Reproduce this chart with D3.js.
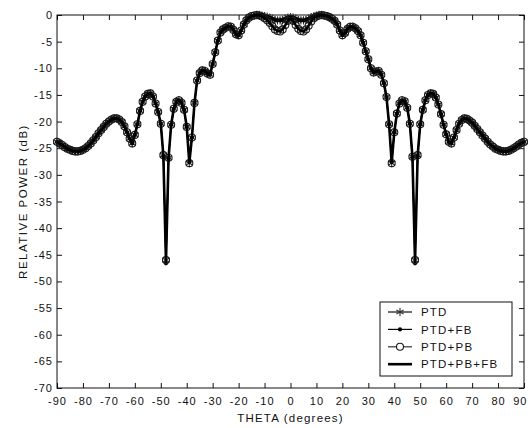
<!DOCTYPE html>
<html>
<head>
<meta charset="utf-8">
<script src="https://cdn.jsdelivr.net/npm/d3@7/dist/d3.min.js"></script>
<style>
  html, body { margin: 0; padding: 0; background: #fff; }
  svg { display: block; }
  text { font-family: "Liberation Sans", Arial, sans-serif; fill: #111; }
</style>
</head>
<body>
<svg id="chart" width="528" height="428"></svg>
<script>
// Observation angle (degrees)
const theta = [
  -90,-89,-88,-87,-86,-85,-84,-83,-82,-81,-80,-79,-78,-77,-76,-75,-74,-73,-72,-71,
  -70,-69,-68,-67,-66,-65,-64,-63,-62,-61,-60,-59,-58,-57,-56,-55,-54,-53,-52,-51,
  -50,-49,-48,-47,-46,-45,-44,-43,-42,-41,-40,-39,-38,-37,-36,-35,-34,-33,-32,-31,
  -30,-29,-28,-27,-26,-25,-24,-23,-22,-21,-20,-19,-18,-17,-16,-15,-14,-13,-12,-11,
  -10,-9,-8,-7,-6,-5,-4,-3,-2,-1,0,1,2,3,4,5,6,7,8,9,
  10,11,12,13,14,15,16,17,18,19,20,21,22,23,24,25,26,27,28,29,
  30,31,32,33,34,35,36,37,38,39,40,41,42,43,44,45,46,47,48,49,
  50,51,52,53,54,55,56,57,58,59,60,61,62,63,64,65,66,67,68,69,
  70,71,72,73,74,75,76,77,78,79,80,81,82,83,84,85,86,87,88,89,90
];

// Relative power (dB) for each method
const ptd = [
  -23.8,-24.1,-24.4,-24.8,-25.1,-25.3,-25.5,-25.6,-25.6,-25.5,-25.3,-25.0,-24.6,-24.1,-23.5,-22.9,-22.2,-21.6,-21.0,-20.4,
  -20.0,-19.6,-19.4,-19.4,-19.6,-20.1,-20.9,-22.0,-23.2,-24.1,-22.5,-20.5,-18.0,-16.3,-15.3,-14.8,-14.7,-15.3,-16.6,-18.2,
  -20.4,-26.3,-46.0,-26.8,-20.6,-17.6,-16.3,-16.0,-16.5,-17.8,-21.0,-27.8,-23.0,-16.5,-12.3,-10.9,-10.4,-10.5,-11.0,-11.2,
  -9.2,-7.0,-4.8,-3.3,-2.7,-2.4,-2.1,-2.2,-2.8,-3.6,-3.8,-2.9,-1.8,-1.0,-0.5,-0.2,-0.1,0.0,0.0,-0.1,
  -0.2,-0.3,-0.5,-0.7,-0.9,-1.0,-1.0,-0.9,-0.7,-0.5,-0.4,-0.5,-0.7,-0.9,-1.0,-1.0,-0.9,-0.7,-0.4,-0.2,
  -0.1,0.0,0.0,-0.1,-0.2,-0.4,-0.7,-1.1,-1.8,-2.9,-3.8,-3.4,-2.6,-2.2,-2.2,-2.5,-3.0,-3.8,-5.2,-6.8,
  -8.3,-10.0,-10.8,-10.6,-10.5,-11.2,-12.8,-15.4,-20.5,-27.8,-22.0,-18.5,-16.6,-16.0,-16.2,-17.4,-20.4,-26.6,-46.0,-26.3,
  -20.5,-17.8,-16.0,-15.0,-14.7,-14.8,-15.5,-16.8,-18.6,-20.6,-22.4,-23.8,-24.1,-23.0,-21.6,-20.4,-19.7,-19.4,-19.5,-19.8,
  -20.2,-20.8,-21.4,-22.0,-22.6,-23.2,-23.8,-24.3,-24.7,-25.1,-25.3,-25.5,-25.6,-25.6,-25.5,-25.3,-25.0,-24.7,-24.3,-24.0,-23.8
];
const ptdFb = [
  -23.8,-24.1,-24.4,-24.8,-25.1,-25.3,-25.5,-25.6,-25.6,-25.5,-25.3,-25.0,-24.6,-24.1,-23.5,-22.9,-22.2,-21.6,-21.0,-20.4,
  -20.0,-19.6,-19.4,-19.4,-19.6,-20.1,-20.9,-22.0,-23.2,-24.1,-22.5,-20.5,-18.0,-16.3,-15.3,-14.8,-14.7,-15.3,-16.6,-18.2,
  -20.4,-26.5,-46.6,-26.9,-20.6,-17.6,-16.3,-16.0,-16.5,-17.8,-21.0,-27.6,-23.0,-16.5,-12.3,-10.9,-10.4,-10.5,-11.0,-11.2,
  -9.2,-7.0,-4.8,-3.3,-2.7,-2.4,-2.1,-2.2,-2.8,-3.6,-3.8,-2.9,-1.8,-1.0,-0.5,-0.2,-0.1,0.0,0.0,-0.1,
  -0.2,-0.3,-0.5,-0.7,-0.9,-1.0,-1.0,-0.9,-0.7,-0.5,-0.4,-0.5,-0.7,-0.9,-1.0,-1.0,-0.9,-0.7,-0.4,-0.2,
  -0.1,0.0,0.0,-0.1,-0.2,-0.4,-0.7,-1.1,-1.8,-2.9,-3.8,-3.4,-2.6,-2.2,-2.2,-2.5,-3.0,-3.8,-5.2,-6.8,
  -8.3,-10.0,-10.8,-10.6,-10.5,-11.2,-12.8,-15.4,-20.5,-27.6,-22.0,-18.5,-16.6,-16.0,-16.2,-17.4,-20.4,-26.7,-46.6,-26.5,
  -20.5,-17.8,-16.0,-15.0,-14.7,-14.8,-15.5,-16.8,-18.6,-20.6,-22.4,-23.8,-24.1,-23.0,-21.6,-20.4,-19.7,-19.4,-19.5,-19.8,
  -20.2,-20.8,-21.4,-22.0,-22.6,-23.2,-23.8,-24.3,-24.7,-25.1,-25.3,-25.5,-25.6,-25.6,-25.5,-25.3,-25.0,-24.7,-24.3,-24.0,-23.8
];
const ptdPb = [
  -23.8,-24.1,-24.4,-24.8,-25.1,-25.3,-25.5,-25.6,-25.6,-25.5,-25.3,-25.0,-24.6,-24.1,-23.5,-22.9,-22.2,-21.6,-21.0,-20.4,
  -20.0,-19.6,-19.4,-19.4,-19.6,-20.1,-20.9,-22.0,-23.2,-24.1,-22.5,-20.5,-18.0,-16.3,-15.3,-14.8,-14.7,-15.3,-16.6,-18.2,
  -20.4,-26.3,-46.0,-26.8,-20.6,-17.6,-16.3,-16.0,-16.5,-17.8,-21.0,-27.8,-23.0,-16.5,-12.3,-10.9,-10.4,-10.5,-11.0,-11.2,
  -9.2,-7.0,-4.8,-3.3,-2.7,-2.4,-2.1,-2.2,-2.8,-3.6,-3.8,-2.9,-1.8,-1.0,-0.5,-0.2,-0.1,0.0,-0.1,-0.3,
  -0.6,-1.0,-1.5,-2.1,-2.7,-3.0,-3.1,-2.7,-1.9,-1.1,-0.7,-1.1,-1.9,-2.6,-3.0,-3.1,-2.7,-2.0,-1.2,-0.6,
  -0.3,-0.1,0.0,-0.1,-0.2,-0.4,-0.7,-1.1,-1.8,-2.9,-3.8,-3.4,-2.6,-2.2,-2.2,-2.5,-3.0,-3.8,-5.2,-6.8,
  -8.3,-10.0,-10.8,-10.6,-10.5,-11.2,-12.8,-15.4,-20.5,-27.8,-22.0,-18.5,-16.6,-16.0,-16.2,-17.4,-20.4,-26.6,-46.0,-26.3,
  -20.5,-17.8,-16.0,-15.0,-14.7,-14.8,-15.5,-16.8,-18.6,-20.6,-22.4,-23.8,-24.1,-23.0,-21.6,-20.4,-19.7,-19.4,-19.5,-19.8,
  -20.2,-20.8,-21.4,-22.0,-22.6,-23.2,-23.8,-24.3,-24.7,-25.1,-25.3,-25.5,-25.6,-25.6,-25.5,-25.3,-25.0,-24.7,-24.3,-24.0,-23.8
];
const ptdPbFb = [
  -23.8,-24.1,-24.4,-24.8,-25.1,-25.3,-25.5,-25.6,-25.6,-25.5,-25.3,-25.0,-24.6,-24.1,-23.5,-22.9,-22.2,-21.6,-21.0,-20.4,
  -20.0,-19.6,-19.4,-19.4,-19.6,-20.1,-20.9,-22.0,-23.2,-24.1,-22.5,-20.5,-18.0,-16.3,-15.3,-14.8,-14.7,-15.3,-16.6,-18.2,
  -20.4,-26.4,-46.3,-26.8,-20.6,-17.6,-16.3,-16.0,-16.5,-17.8,-21.0,-27.7,-23.0,-16.5,-12.3,-10.9,-10.4,-10.5,-11.0,-11.2,
  -9.2,-7.0,-4.8,-3.3,-2.7,-2.4,-2.1,-2.2,-2.8,-3.6,-3.8,-2.9,-1.8,-1.0,-0.5,-0.2,-0.1,0.0,-0.1,-0.3,
  -0.6,-1.0,-1.5,-2.1,-2.7,-3.0,-3.1,-2.7,-1.9,-1.1,-0.7,-1.1,-1.9,-2.6,-3.0,-3.1,-2.7,-2.0,-1.2,-0.6,
  -0.3,-0.1,0.0,-0.1,-0.2,-0.4,-0.7,-1.1,-1.8,-2.9,-3.8,-3.4,-2.6,-2.2,-2.2,-2.5,-3.0,-3.8,-5.2,-6.8,
  -8.3,-10.0,-10.8,-10.6,-10.5,-11.2,-12.8,-15.4,-20.5,-27.7,-22.0,-18.5,-16.6,-16.0,-16.2,-17.4,-20.4,-26.6,-46.3,-26.4,
  -20.5,-17.8,-16.0,-15.0,-14.7,-14.8,-15.5,-16.8,-18.6,-20.6,-22.4,-23.8,-24.1,-23.0,-21.6,-20.4,-19.7,-19.4,-19.5,-19.8,
  -20.2,-20.8,-21.4,-22.0,-22.6,-23.2,-23.8,-24.3,-24.7,-25.1,-25.3,-25.5,-25.6,-25.6,-25.5,-25.3,-25.0,-24.7,-24.3,-24.0,-23.8
];

// Axis ticks and labels
const xTicks = [-90,-80,-70,-60,-50,-40,-30,-20,-10,0,10,20,30,40,50,60,70,80,90];
const yTicks = [0,-5,-10,-15,-20,-25,-30,-35,-40,-45,-50,-55,-60,-65,-70];
const seriesNames = ["PTD", "PTD+FB", "PTD+PB", "PTD+PB+FB"];
const xTitle = "THETA (degrees)";
const yTitle = "RELATIVE POWER (dB)";

const margin = { top: 15, right: 4, bottom: 40, left: 57 };
const W = 528, H = 428;
const w = W - margin.left - margin.right;
const h = H - margin.top - margin.bottom;

const svg = d3.select("#chart");
const g = svg.append("g").attr("transform", `translate(${margin.left},${margin.top})`);

const x = d3.scaleLinear().domain([-90, 90]).range([0, w]);
const y = d3.scaleLinear().domain([-70, 0]).range([h, 0]);

const fmt = d => String(d);
const tickFont = sel => sel.selectAll("text")
  .style("font-size", "11px")
  .style("letter-spacing", "1px")
  .style("font-family", "'Liberation Sans', Arial, sans-serif")
  .attr("fill", "#111");

// Axes with inward ticks on all four sides
const xAxisG = g.append("g").attr("transform", `translate(0,${h})`)
  .call(d3.axisBottom(x).tickValues(xTicks).tickFormat(fmt).tickSize(-5).tickSizeOuter(0).tickPadding(9))
  .call(tickFont);
// keep the last label inside the page edge
xAxisG.selectAll(".tick text").filter(d => d === 90)
  .attr("text-anchor", "end").attr("x", 3);
g.append("g")
  .call(d3.axisLeft(y).tickValues(yTicks).tickFormat(fmt).tickSize(-5).tickSizeOuter(0).tickPadding(4))
  .call(tickFont);
g.append("g")
  .call(d3.axisTop(x).tickValues(xTicks).tickFormat("").tickSize(-5).tickSizeOuter(0));
g.append("g").attr("transform", `translate(${w},0)`)
  .call(d3.axisRight(y).tickValues(yTicks).tickFormat("").tickSize(-5).tickSizeOuter(0));
g.selectAll(".domain").remove();
g.selectAll(".tick line").attr("stroke", "#111");

g.append("rect").attr("x", 0).attr("y", 0).attr("width", w).attr("height", h)
  .attr("fill", "none").attr("stroke", "#111").attr("stroke-width", 1);

// Axis titles
svg.append("text")
  .attr("x", margin.left + w / 2).attr("y", 422)
  .attr("text-anchor", "middle")
  .style("font-size", "11.5px").style("letter-spacing", "1.2px")
  .text(xTitle);
svg.append("text")
  .attr("transform", `translate(27,${margin.top + h / 2}) rotate(-90)`)
  .attr("text-anchor", "middle")
  .style("font-size", "11.5px").style("letter-spacing", "1.5px")
  .text(yTitle);

// Series styles
const star = d3.symbol().type(d3.symbolAsterisk).size(48);
const series = [
  { name: seriesNames[0], values: ptd,     color: "#333", width: 1.4, marker: "star" },
  { name: seriesNames[1], values: ptdFb,   color: "#000", width: 1.2, marker: "dot" },
  { name: seriesNames[2], values: ptdPb,   color: "#333", width: 1.2, marker: "circle" },
  { name: seriesNames[3], values: ptdPbFb, color: "#000", width: 2.6, marker: "none" }
];

const line = d3.line().x(d => x(d[0])).y(d => y(d[1]));

function drawMarker(sel, kind, color) {
  if (kind === "star") {
    sel.append("path").attr("d", star).attr("fill", "none")
      .attr("stroke", color).attr("stroke-width", 1.1);
  } else if (kind === "dot") {
    sel.append("circle").attr("r", 2.1).attr("fill", "#000");
  } else if (kind === "circle") {
    sel.append("circle").attr("r", 3.5).attr("fill", "none")
      .attr("stroke", "#1a1a1a").attr("stroke-width", 1.1);
  }
}

series.forEach(s => {
  const pts = theta.map((t, i) => [t, s.values[i]]);
  g.append("path").datum(pts)
    .attr("d", line).attr("fill", "none")
    .attr("stroke", s.color).attr("stroke-width", s.width)
    .attr("stroke-linejoin", "round");
  if (s.marker !== "none") {
    const m = g.append("g");
    pts.forEach(p => {
      const mk = m.append("g").attr("transform", `translate(${x(p[0])},${y(p[1])})`);
      drawMarker(mk, s.marker, s.color);
    });
  }
});

// Legend
const lg = svg.append("g").attr("transform", "translate(380,302)");
lg.append("rect").attr("x", 0).attr("y", 0).attr("width", 132).attr("height", 74)
  .attr("fill", "#fff").attr("stroke", "#111").attr("stroke-width", 1);
series.forEach((s, i) => {
  const ry = 10 + i * 17.4;
  lg.append("line").attr("x1", 8).attr("x2", 32).attr("y1", ry).attr("y2", ry)
    .attr("stroke", s.color).attr("stroke-width", s.width);
  const mk = lg.append("g").attr("transform", `translate(20,${ry})`);
  drawMarker(mk, s.marker, s.color);
  if (s.marker === "circle") mk.select("circle").attr("fill", "#fff");
  lg.append("text").attr("x", 41).attr("y", ry).attr("dy", "0.36em")
    .style("font-size", "11.5px").style("letter-spacing", "1.2px")
    .text(s.name);
});
</script>
</body>
</html>
